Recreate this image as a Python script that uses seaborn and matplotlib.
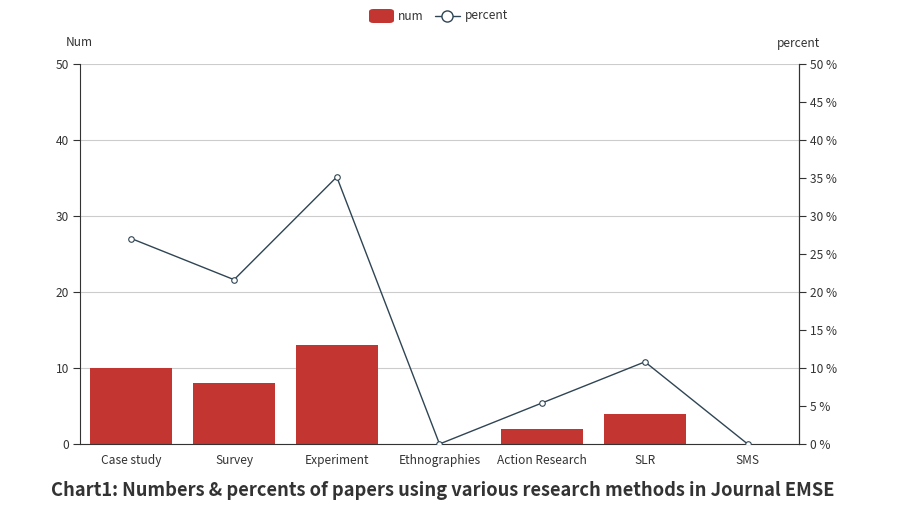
import numpy as np
import pandas as pd
import matplotlib
matplotlib.use('Agg')
import matplotlib.pyplot as plt
import seaborn as sns
from matplotlib.lines import Line2D
from matplotlib.patches import FancyBboxPatch
from matplotlib.ticker import FixedLocator, FuncFormatter

methods = ['Case study', 'Survey', 'Experiment', 'Ethnographies', 'Action Research', 'SLR', 'SMS']
num = [10, 8, 13, 0, 2, 4, 0]
percent = [27.03, 21.62, 35.14, 0, 5.41, 10.81, 0]

bar_color = '#c23531'
line_color = '#2f4554'
text_color = '#333333'

sns.set_theme(style='white')
plt.rcParams['font.family'] = ['Noto Sans CJK SC', 'DejaVu Sans']

df = pd.DataFrame({'method': methods, 'num': num, 'percent': percent})

fig = plt.figure(figsize=(9.03, 5.27), dpi=100)
ax = fig.add_axes([80 / 903, 83 / 527, 719 / 903, 380 / 527])

sns.barplot(data=df, x='method', y='num', order=methods, color=bar_color,
            saturation=1, width=0.8, ax=ax, zorder=2, linewidth=0)
ax.set_ylim(0, 50)
ax.set_xlim(-0.5, len(methods) - 0.5)
ax.set_yticks(range(0, 51, 10))
ax.yaxis.grid(True, color='#cccccc', lw=0.8, zorder=0)
ax.set_axisbelow(True)
ax.set_xlabel('')
ax.set_ylabel('')
ax.set_xticks(range(len(methods)))
ax.set_xticklabels(methods)
ax.tick_params(axis='x', length=0, pad=7, labelsize=8.6, colors=text_color)
ax.xaxis.set_minor_locator(FixedLocator(np.arange(-0.5, len(methods), 1)))
ax.tick_params(axis='x', which='minor', length=5, width=0.8, color=text_color, direction='out')
ax.tick_params(axis='y', length=5, width=0.8, color=text_color, labelsize=8.6,
               labelcolor=text_color, pad=3, left=True)
ax.spines['top'].set_visible(False)
for s in ['left', 'bottom', 'right']:
    ax.spines[s].set_color(text_color)
    ax.spines[s].set_linewidth(0.8)

ax2 = ax.twinx()
sns.lineplot(x=np.arange(len(methods)), y=percent, ax=ax2, color=line_color, lw=1,
             marker='o', markersize=4, markerfacecolor='white',
             markeredgecolor=line_color, markeredgewidth=0.8, zorder=3)
ax2.set_ylim(0, 50)
ax2.set_yticks(range(0, 51, 5))
ax2.yaxis.set_major_formatter(FuncFormatter(lambda v, p: f'{int(v)} %'))
ax2.tick_params(axis='y', length=5, width=0.8, color=text_color, labelsize=8.6,
                labelcolor=text_color, pad=3, right=True)
ax2.grid(False)
for s in ['top', 'left', 'bottom']:
    ax2.spines[s].set_visible(False)
ax2.spines['right'].set_color(text_color)
ax2.spines['right'].set_linewidth(0.8)

fig.text(79 / 903, 1 - 43 / 527, 'Num', ha='center', va='center', fontsize=8.6, color=text_color)
fig.text(799 / 903, 1 - 43 / 527, 'percent', ha='center', va='center', fontsize=8.6, color=text_color)

# legend drawn by hand at the top centre, echarts style
ly = 1 - 16 / 527
fig.patches.append(FancyBboxPatch((369 / 903, ly - 7 / 527), 25 / 903, 14 / 527,
                                  boxstyle='round,pad=0,rounding_size=0.005',
                                  transform=fig.transFigure, facecolor=bar_color,
                                  edgecolor='none'))
fig.text(398 / 903, ly, 'num', ha='left', va='center', fontsize=8.6, color=text_color)
fig.lines.append(Line2D([435 / 903, 460 / 903], [ly, ly], transform=fig.transFigure,
                        color=line_color, lw=1))
fig.lines.append(Line2D([447.5 / 903], [ly], transform=fig.transFigure, marker='o',
                        markersize=8, markerfacecolor='white', markeredgecolor=line_color,
                        markeredgewidth=1, color=line_color))
fig.text(465 / 903, ly, 'percent', ha='left', va='center', fontsize=8.6, color=text_color)

fig.text(0.49, 1 - 490 / 527,
         'Chart1: Numbers & percents of papers using various research methods in Journal EMSE',
         ha='center', va='center', fontsize=13.2, fontweight='bold', color=text_color)

fig.savefig('out.png', dpi=100)
